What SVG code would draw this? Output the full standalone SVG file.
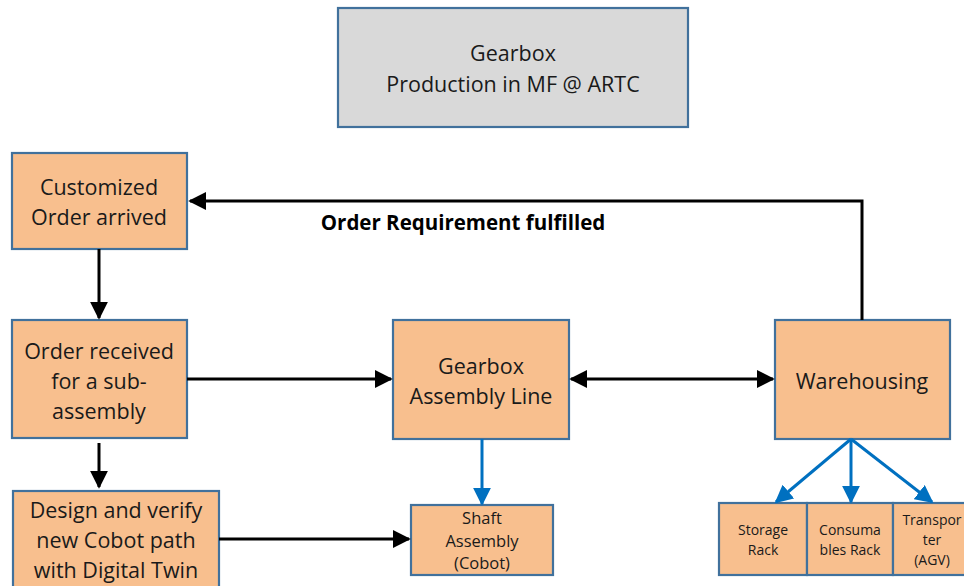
<svg xmlns="http://www.w3.org/2000/svg" width="964" height="586" viewBox="0 0 964 586">
<style>
.box{fill:#f8bf8e;stroke:#41719c;stroke-width:2.2}
.title{fill:#d9d9d9;stroke:#41719c;stroke-width:2.2}
text{font-family:"Open Sans","Liberation Sans",sans-serif;fill:#1a1a1a;text-anchor:middle}
.t20{font-size:21.5px}
.t15{font-size:16.5px}
.t14{font-size:14px}
.blk{stroke:#000;stroke-width:3;fill:none}
.blu{stroke:#0070c0;stroke-width:3;fill:none}
</style>
<defs>
<marker id="ab" viewBox="0 0 10 10" refX="9" refY="5" markerWidth="6" markerHeight="6" orient="auto-start-reverse" markerUnits="strokeWidth"><path d="M0,0 L10,5 L0,10 z" fill="#000"/></marker>
<marker id="au" viewBox="0 0 10 10" refX="9" refY="5" markerWidth="6" markerHeight="6" orient="auto" markerUnits="strokeWidth"><path d="M0,0 L10,5 L0,10 z" fill="#0070c0"/></marker>
</defs>
<rect width="964" height="586" fill="#fff"/>
<g id="title">
<rect class="title" x="338" y="8" width="350" height="119"/>
<text class="t20" x="513" y="61">Gearbox</text>
<text class="t20" x="513" y="92">Production in MF @ ARTC</text>
</g>
<g id="customized">
<rect class="box" x="12" y="153" width="175" height="96"/>
<text class="t20" x="99" y="195">Customized</text>
<text class="t20" x="99" y="225">Order arrived</text>
</g>
<g id="received">
<rect class="box" x="12" y="320" width="175" height="118"/>
<text class="t20" x="99" y="359">Order received</text>
<text class="t20" x="99" y="389">for a sub-</text>
<text class="t20" x="99" y="419">assembly</text>
</g>
<g id="design">
<rect class="box" x="13" y="491" width="206" height="100"/>
<text class="t20" x="116" y="518">Design and verify</text>
<text class="t20" x="116" y="548">new Cobot path</text>
<text class="t20" x="116" y="578">with Digital Twin</text>
</g>
<g id="gearbox">
<rect class="box" x="393" y="320" width="176" height="119"/>
<text class="t20" x="481" y="374">Gearbox</text>
<text class="t20" x="481" y="404">Assembly Line</text>
</g>
<g id="shaft">
<rect class="box" x="411" y="505" width="142" height="70"/>
<text class="t15" x="482" y="524">Shaft</text>
<text class="t15" x="482" y="547">Assembly</text>
<text class="t15" x="482" y="569">(Cobot)</text>
</g>
<g id="warehousing">
<rect class="box" x="775" y="320" width="175" height="119"/>
<text class="t20" x="862" y="389">Warehousing</text>
</g>
<g id="storage">
<rect class="box" x="719" y="503" width="88" height="72"/>
<text class="t14" x="763" y="535">Storage</text>
<text class="t14" x="763" y="555">Rack</text>
</g>
<g id="consumables">
<rect class="box" x="807" y="503" width="86" height="72"/>
<text class="t14" x="850" y="535">Consuma</text>
<text class="t14" x="850" y="555">bles Rack</text>
</g>
<g id="transporter">
<rect class="box" x="893" y="503" width="80" height="72"/>
<text class="t14" x="932" y="525">Transpor</text>
<text class="t14" x="932" y="545">ter</text>
<text class="t14" x="932" y="565">(AGV)</text>
</g>
<g id="connectors">
<path class="blk" d="M99,249 V318" marker-end="url(#ab)"/>
<path class="blk" d="M99,443 V487" marker-end="url(#ab)"/>
<path class="blk" d="M187,379 H391" marker-end="url(#ab)"/>
<path class="blk" d="M571,379 H773" marker-start="url(#ab)" marker-end="url(#ab)"/>
<path class="blk" d="M219,539 H409" marker-end="url(#ab)"/>
<path class="blk" d="M862,320 V201 H190" marker-end="url(#ab)"/>
<path class="blu" d="M482,439 V504" marker-end="url(#au)"/>
<path class="blu" d="M851,439 L776,502" marker-end="url(#au)"/>
<path class="blu" d="M851,439 V502" marker-end="url(#au)"/>
<path class="blu" d="M851,439 L932,502" marker-end="url(#au)"/>
</g>
<text x="463" y="230" style="font-size:20.5px;font-weight:bold;fill:#000">Order Requirement fulfilled</text>
</svg>
